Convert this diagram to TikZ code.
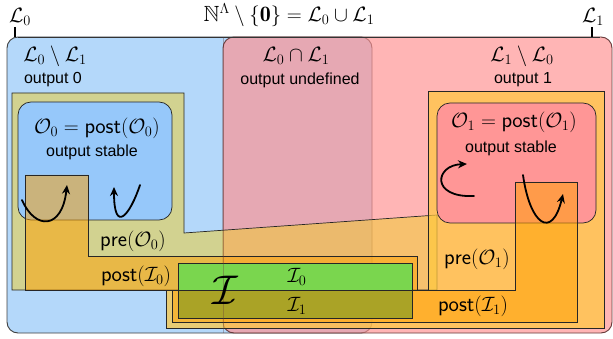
\documentclass[tikz,border=0pt]{standalone}
\usepackage{fontspec}
\usepackage{amsmath,amssymb}
\newfontfamily\arialf{Liberation Sans}
\usetikzlibrary{arrows.meta}
\definecolor{lzero}{RGB}{180,216,250}
\definecolor{lone}{RGB}{255,145,145}
\definecolor{preyel}{RGB}{240,205,40}
\definecolor{preorg}{RGB}{255,200,60}
\definecolor{ozero}{RGB}{150,200,250}
\definecolor{oone}{RGB}{255,150,150}
\definecolor{postorg}{RGB}{255,160,0}
\definecolor{izero}{RGB}{122,214,78}
\definecolor{ione}{RGB}{170,163,38}
\begin{document}
\begin{tikzpicture}[x=1pt,y=-1pt,
  region/.style={draw=black!85, line width=0.7pt},
  outer/.style={draw=black!75, line width=0.9pt, rounded corners=11pt},
  mathlbl/.style={inner sep=0pt, font=\fontsize{22}{26}\selectfont},
  txtlbl/.style={inner sep=0pt, font=\arialf\fontsize{16}{19}\selectfont},
  loopar/.style={-{Stealth[length=9pt,width=8pt]}, line width=1.8pt, line cap=round}]
\useasboundingbox (0,0) rectangle (613,339);
% outer sets
\path[outer, fill=lzero] (7,37) rectangle (372,333);
\path[outer, fill=lone, fill opacity=0.67, draw=black!60!lone] (223,37) rectangle (612,333);
\draw[black!80, line width=0.9pt] (18,37) -- (600,37);
% pre(O_0)
\path[region, fill=preyel, fill opacity=0.5]
  (12,93) -- (184,93) -- (184,233) -- (437,215) -- (437,290) -- (12,290) -- cycle;
% pre(O_1)
\path[region, fill=preorg, fill opacity=0.7]
  (428,91) -- (604,91) -- (604,328) -- (166,328) -- (166,290) -- (428,290) -- cycle;
% O_0, O_1
\path[region, fill=ozero, rounded corners=13pt] (18,102) rectangle (172,220);
\path[region, fill=oone, rounded corners=13pt] (437,103) rectangle (596,223);
% post(I_0), post(I_1)
\path[region, fill=postorg, fill opacity=0.5]
  (25,175) -- (88,175) -- (88,256) -- (417,256) -- (417,290) -- (25,290) -- cycle;
\path[region, fill=postorg, fill opacity=0.5]
  (515,182) -- (577,182) -- (577,322) -- (172,322) -- (172,290) -- (515,290) -- cycle;
% I_0, I_1
\path[region, fill=izero] (178,263) rectangle (412,290);
\path[region, fill=ione] (178,290) rectangle (412,318);
% faint L1 outline on top
\draw[black!60!lone, opacity=0.35, line width=0.7pt, rounded corners=11pt] (223,333) -- (223,37);
% ticks
\coordinate (t0a) at (15,27); \coordinate (t0b) at (15,37);
\coordinate (t1a) at (592,27); \coordinate (t1b) at (592,37);
\draw[line width=1.2pt] (t0a) -- (t0b);
\draw[line width=1.2pt] (t1a) -- (t1b);
% labels
\node[mathlbl] (title) at (289,15) {$\mathbb{N}^{\Lambda}\setminus\{\mathbf{0}\}=\mathcal{L}_0\cup\mathcal{L}_1$};
\node[mathlbl] (l0) at (20,17) {$\mathcal{L}_0$};
\node[mathlbl] (l1) at (593,17) {$\mathcal{L}_1$};
\node[mathlbl] (l0m) at (55,56) {$\mathcal{L}_0\setminus\mathcal{L}_1$};
\node[txtlbl] (out0) at (53,80) {output 0};
\node[mathlbl] (lint) at (296,56) {$\mathcal{L}_0\cap\mathcal{L}_1$};
\node[txtlbl] (outu) at (300,80) {output undefined};
\node[mathlbl] (l1m) at (522,56) {$\mathcal{L}_1\setminus\mathcal{L}_0$};
\node[txtlbl] (out1) at (523,80) {output 1};
\node[mathlbl] (o0) at (97,128) {$\mathcal{O}_0=\mathsf{post}(\mathcal{O}_0)$};
\node[txtlbl] (os0) at (92,152) {output stable};
\node[mathlbl] (o1) at (514,122) {$\mathcal{O}_1=\mathsf{post}(\mathcal{O}_1)$};
\node[txtlbl] (os1) at (511,148) {output stable};
\node[mathlbl] (pre0) at (133,241) {$\mathsf{pre}(\mathcal{O}_0)$};
\node[mathlbl] (post0) at (136,276) {$\mathsf{post}(\mathcal{I}_0)$};
\node[mathlbl] (pre1) at (477,259) {$\mathsf{pre}(\mathcal{O}_1)$};
\node[mathlbl] (post1) at (473,306) {$\mathsf{post}(\mathcal{I}_1)$};
\node[mathlbl] (bigI) at (225,290) {\scalebox{2}{$\mathcal{I}$}};
\node[mathlbl] (i0) at (297,277) {$\mathcal{I}_0$};
\node[mathlbl] (i1) at (297,306) {$\mathcal{I}_1$};
% loops
\coordinate (a1s) at (22,200); \coordinate (a1e) at (67,185);
\coordinate (a2s) at (140,185); \coordinate (a2e) at (114,187);
\coordinate (a3s) at (474,196); \coordinate (a3e) at (467,164);
\coordinate (a4s) at (523,175); \coordinate (a4e) at (563,194);
\draw[loopar] (a1s) .. controls (35,230) and (62,230) .. (a1e);
\draw[loopar] (a2s) .. controls (130,215) and (114,235) .. (a2e);
\draw[loopar] (a3s) .. controls (430,198) and (435,165) .. (a3e);
\draw[loopar] (a4s) .. controls (530,225) and (552,240) .. (a4e);
\end{tikzpicture}
\end{document}
